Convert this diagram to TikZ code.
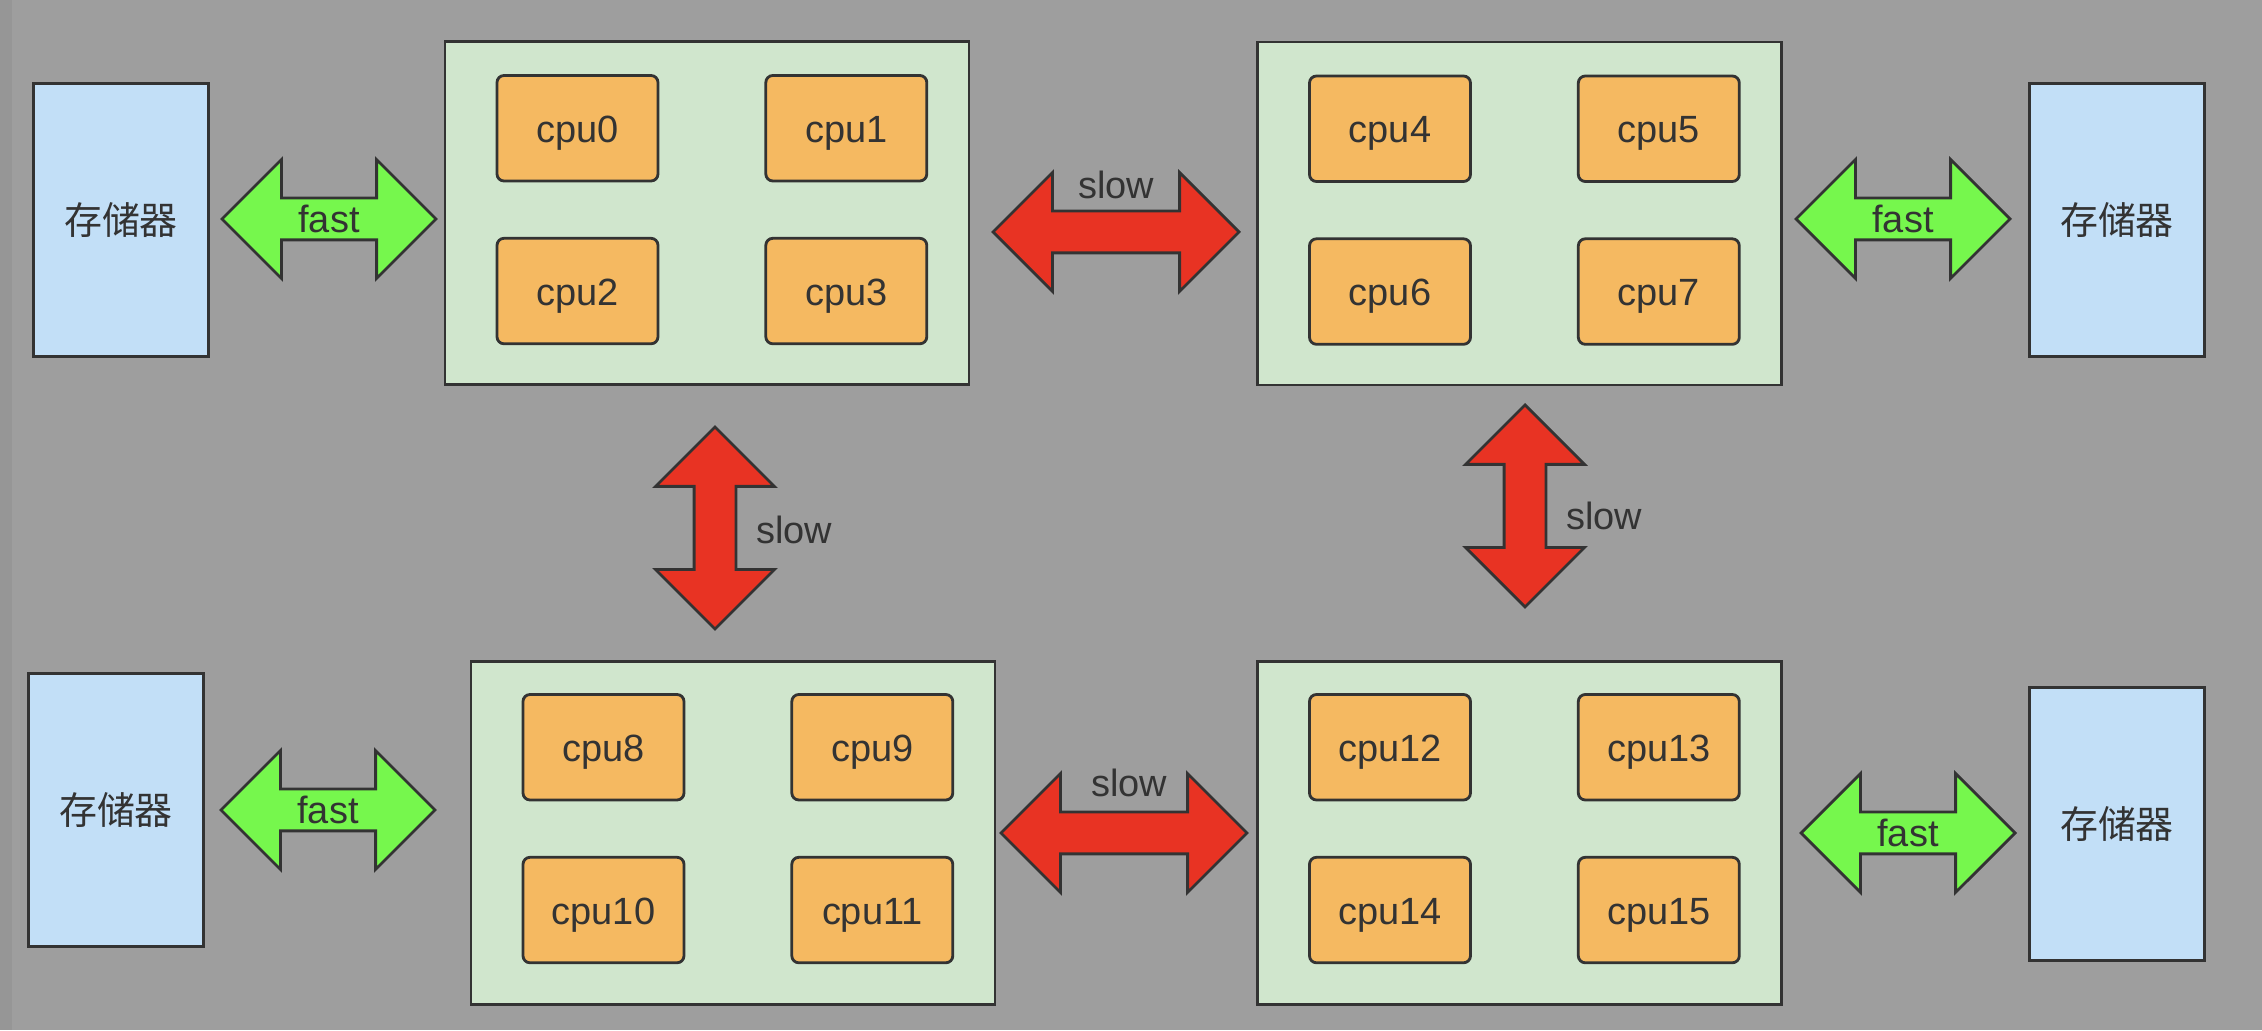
\documentclass[tikz,border=0pt]{standalone}
\usepackage{fontspec}
\setmainfont{Liberation Sans}
\newfontfamily\cjk{Noto Sans CJK SC}
\usepackage{xcolor}
\usepackage{tikz}
\usetikzlibrary{positioning,shapes.arrows}

\definecolor{bggray}{HTML}{9E9E9E}
\definecolor{stripgray}{HTML}{969696}
\definecolor{memblue}{HTML}{C2DFF7}
\definecolor{chipgreen}{HTML}{D0E6CD}
\definecolor{cpuorange}{HTML}{F5B961}
\definecolor{fastgreen}{HTML}{76F74D}
\definecolor{slowred}{HTML}{E83323}
\definecolor{ink}{HTML}{333333}

\begin{document}
\begin{tikzpicture}[line width=0.8pt,color=ink,
      font=\fontsize{10.8}{13}\selectfont,
      mem node/.style={rectangle,draw=ink,fill=memblue,minimum width=1.75cm,
        minimum height=2.73cm,font=\cjk\fontsize{10.8}{13}\selectfont},
      chip node/.style={rectangle,draw=ink,fill=chipgreen,minimum width=5.24cm,
        minimum height=3.43cm},
      cpu node/.style={rectangle,draw=ink,fill=cpuorange,rounded corners=0.07cm,
        minimum width=1.61cm,minimum height=1.055cm,
        text height=0.40cm,text depth=0.118cm},
      link/.style={double arrow,draw=ink,double arrow head extend=0.385cm,
        minimum width=1.16cm,inner xsep=0pt,inner ysep=0pt,
        text height=0.33cm,text depth=0.06cm},
      fast link/.style={link,fill=fastgreen,minimum height=2.14cm},
      slow link/.style={link,fill=slowred,minimum height=2.46cm}]

      \useasboundingbox (0,0) rectangle (22.62,10.30);
      \fill[bggray] (0,0) rectangle (22.62,10.30);
      \fill[stripgray] (0,0) rectangle (0.12,10.30);

      % memories
      \node[mem node] (memA) at (1.21,8.10) {存储器};
      \node[mem node] (memB) at (21.17,8.10) {存储器};
      \node[mem node] (memC) at (1.16,2.20) {存储器};
      \node[mem node] (memD) at (21.17,2.06) {存储器};

      % sockets
      \node[chip node] (chipA) at (7.07,8.17) {};
      \node[chip node] (chipB) at (15.195,8.165) {};
      \node[chip node] (chipC) at (7.33,1.97) {};
      \node[chip node] (chipD) at (15.195,1.97) {};

      \node[cpu node] (cpu0) [below right=0.34cm and 0.52cm of chipA.north west] {cpu0};
      \node[cpu node] (cpu1) [right=1.05cm of cpu0] {cpu1};
      \node[cpu node] (cpu2) [below=0.545cm of cpu0] {cpu2};
      \node[cpu node] (cpu3) [below=0.545cm of cpu1] {cpu3};

      \node[cpu node] (cpu4) [below right=0.34cm and 0.52cm of chipB.north west] {cpu4};
      \node[cpu node] (cpu5) [right=1.05cm of cpu4] {cpu5};
      \node[cpu node] (cpu6) [below=0.545cm of cpu4] {cpu6};
      \node[cpu node] (cpu7) [below=0.545cm of cpu5] {cpu7};

      \node[cpu node] (cpu8) [below right=0.33cm and 0.52cm of chipC.north west] {cpu8};
      \node[cpu node] (cpu9) [right=1.05cm of cpu8] {cpu9};
      \node[cpu node] (cpu10) [below=0.545cm of cpu8] {cpu10};
      \node[cpu node] (cpu11) [below=0.545cm of cpu9] {cpu11};

      \node[cpu node] (cpu12) [below right=0.33cm and 0.52cm of chipD.north west] {cpu12};
      \node[cpu node] (cpu13) [right=1.05cm of cpu12] {cpu13};
      \node[cpu node] (cpu14) [below=0.545cm of cpu12] {cpu14};
      \node[cpu node] (cpu15) [below=0.545cm of cpu13] {cpu15};

      % links
      \node[fast link] (fastA) at (3.29,8.11) {fast};
      \node[fast link] (fastB) at (19.03,8.11) {fast};
      \node[fast link] (fastC) at (3.28,2.20) {fast};
      \node[fast link] (fastD) at (19.08,1.97) {fast};

      \node[slow link] (slowAB) at (11.16,7.98) {};
      \node[slow link] (slowCD) at (11.24,1.97) {};
      \node[slow link,rotate=90,minimum height=2.02cm] (slowAC) at (7.15,5.02) {};
      \node[slow link,rotate=90,minimum height=2.02cm] (slowBD) at (15.25,5.24) {};

      \node (tagAB) at ([yshift=0.47cm]slowAB.center) {slow};
      \node (tagCD) at ([xshift=0.05cm,yshift=0.50cm]slowCD.center) {slow};
      \node (tagAC) at ([xshift=0.79cm,yshift=-0.02cm]slowAC.center) {slow};
      \node (tagBD) at ([xshift=0.79cm,yshift=-0.10cm]slowBD.center) {slow};
    \end{tikzpicture}
\end{document}
